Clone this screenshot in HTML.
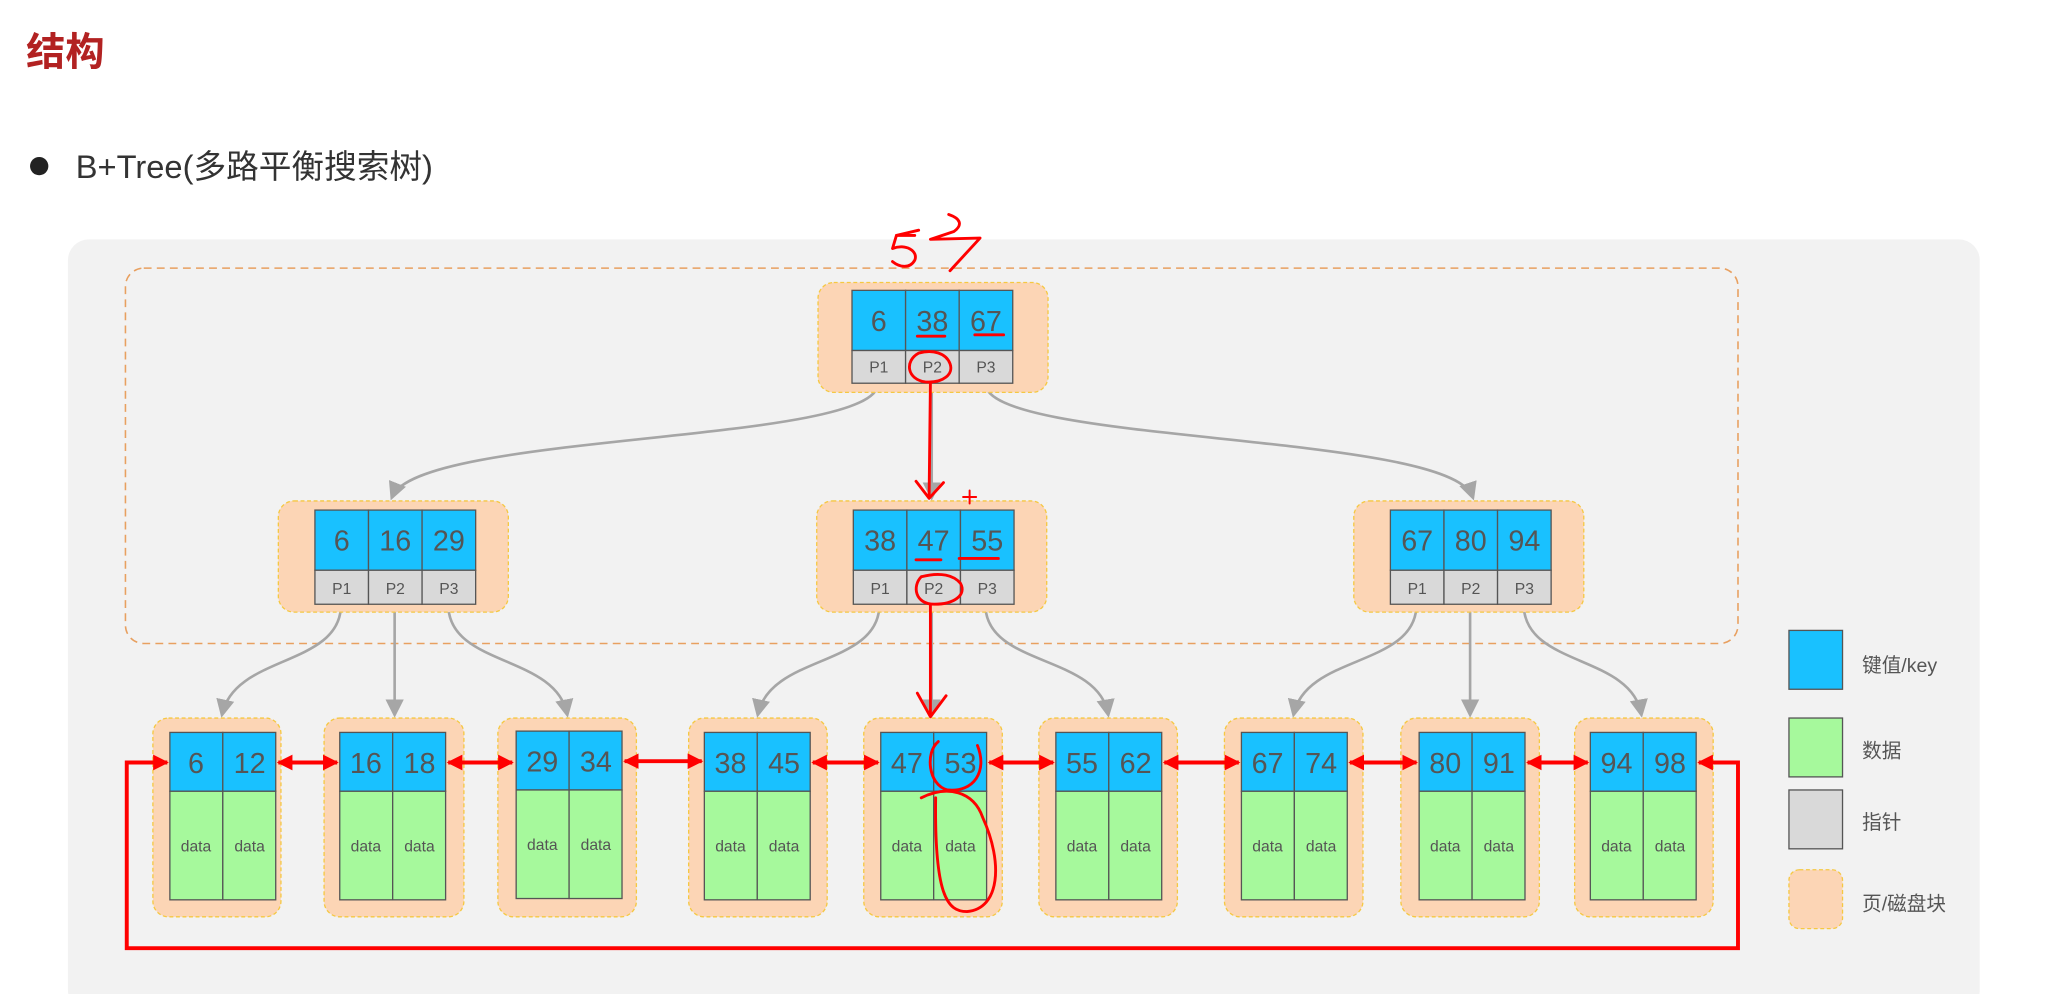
<!DOCTYPE html>
<html><head><meta charset="utf-8"><style>
html,body{margin:0;padding:0;background:#fff;width:2049px;height:994px;overflow:hidden}
svg{display:block}
text{font-family:"Liberation Sans","Noto Sans CJK SC",sans-serif;fill:#555}
</style></head><body>
<svg width="2049" height="994" viewBox="0 0 1568 760" preserveAspectRatio="none" xmlns="http://www.w3.org/2000/svg">
<defs>
<marker id="ga" viewBox="0 0 10 10" refX="8" refY="5" markerWidth="7" markerHeight="7" orient="auto"><path d="M0,0 L10,5 L0,10 z" fill="#a6a6a6"/></marker>
<marker id="ra" viewBox="0 0 10 10" refX="9" refY="5" markerWidth="4" markerHeight="4" orient="auto-start-reverse"><path d="M0,0 L10,5 L0,10 z" fill="#f00"/></marker>
</defs>
<text x="20" y="50" font-size="30" font-weight="bold" style="fill:#b22222">结构</text>
<circle cx="30" cy="127" r="7" fill="#222"/>
<text x="58" y="136" font-size="25" style="fill:#333">B+Tree(多路平衡搜索树)</text>
<rect x="52" y="183" width="1463" height="590" rx="16" fill="#f2f2f2"/>
<rect x="96" y="205" width="1234" height="287" rx="14" fill="none" stroke="#e8a060" stroke-width="1.2" stroke-dasharray="6,4"/>

<g fill="none" stroke="#a6a6a6" stroke-width="2">
<path d="M672,293 C672,340 320,330 300,380" marker-end="url(#ga)"/>
<path d="M713,293 L713,380" marker-end="url(#ga)"/>
<path d="M754,293 C754,340 1110,330 1127,380" marker-end="url(#ga)"/>
<path d="M261,462 C261,510 180,500 170,546" marker-end="url(#ga)"/>
<path d="M302,462 L302,546" marker-end="url(#ga)"/>
<path d="M343,462 C343,510 425,500 434,546" marker-end="url(#ga)"/>
<path d="M673,462 C673,510 590,500 580,546" marker-end="url(#ga)"/>
<path d="M713,462 L713,546" marker-end="url(#ga)"/>
<path d="M754,462 C754,510 840,500 848,546" marker-end="url(#ga)"/>
<path d="M1084,462 C1084,510 1000,500 990,546" marker-end="url(#ga)"/>
<path d="M1125,462 L1125,546" marker-end="url(#ga)"/>
<path d="M1166,462 C1166,510 1248,500 1256,546" marker-end="url(#ga)"/>
</g>

<g id="root">
<rect x="626" y="216" width="176" height="84" rx="12" fill="#fcd5b5" stroke="#f5c842" stroke-dasharray="3,2"/>
<rect x="652" y="222" width="41" height="46" fill="#19c1ff" stroke="#555"/><rect x="693" y="222" width="41" height="46" fill="#19c1ff" stroke="#555"/><rect x="734" y="222" width="41" height="46" fill="#19c1ff" stroke="#555"/>
<rect x="652" y="268" width="41" height="25" fill="#d9d9d9" stroke="#555"/><rect x="693" y="268" width="41" height="25" fill="#d9d9d9" stroke="#555"/><rect x="734" y="268" width="41" height="25" fill="#d9d9d9" stroke="#555"/>
<text x="672.5" y="253" font-size="22" text-anchor="middle">6</text><text x="713.5" y="253" font-size="22" text-anchor="middle">38</text><text x="754.5" y="253" font-size="22" text-anchor="middle">67</text>
<text x="672.5" y="285" font-size="12" text-anchor="middle">P1</text><text x="713.5" y="285" font-size="12" text-anchor="middle">P2</text><text x="754.5" y="285" font-size="12" text-anchor="middle">P3</text>
</g>
<g transform="translate(-412,168)">
<rect x="625" y="215" width="176" height="85" rx="12" fill="#fcd5b5" stroke="#f5c842" stroke-dasharray="3,2"/>
<rect x="653" y="222" width="41" height="46" fill="#19c1ff" stroke="#555"/><rect x="694" y="222" width="41" height="46" fill="#19c1ff" stroke="#555"/><rect x="735" y="222" width="41" height="46" fill="#19c1ff" stroke="#555"/>
<rect x="653" y="268" width="41" height="26" fill="#d9d9d9" stroke="#555"/><rect x="694" y="268" width="41" height="26" fill="#d9d9d9" stroke="#555"/><rect x="735" y="268" width="41" height="26" fill="#d9d9d9" stroke="#555"/>
<text x="673.5" y="253" font-size="22" text-anchor="middle">6</text><text x="714.5" y="253" font-size="22" text-anchor="middle">16</text><text x="755.5" y="253" font-size="22" text-anchor="middle">29</text>
<text x="673.5" y="286" font-size="12" text-anchor="middle">P1</text><text x="714.5" y="286" font-size="12" text-anchor="middle">P2</text><text x="755.5" y="286" font-size="12" text-anchor="middle">P3</text>
</g>
<g transform="translate(0,168)">
<rect x="625" y="215" width="176" height="85" rx="12" fill="#fcd5b5" stroke="#f5c842" stroke-dasharray="3,2"/>
<rect x="653" y="222" width="41" height="46" fill="#19c1ff" stroke="#555"/><rect x="694" y="222" width="41" height="46" fill="#19c1ff" stroke="#555"/><rect x="735" y="222" width="41" height="46" fill="#19c1ff" stroke="#555"/>
<rect x="653" y="268" width="41" height="26" fill="#d9d9d9" stroke="#555"/><rect x="694" y="268" width="41" height="26" fill="#d9d9d9" stroke="#555"/><rect x="735" y="268" width="41" height="26" fill="#d9d9d9" stroke="#555"/>
<text x="673.5" y="253" font-size="22" text-anchor="middle">38</text><text x="714.5" y="253" font-size="22" text-anchor="middle">47</text><text x="755.5" y="253" font-size="22" text-anchor="middle">55</text>
<text x="673.5" y="286" font-size="12" text-anchor="middle">P1</text><text x="714.5" y="286" font-size="12" text-anchor="middle">P2</text><text x="755.5" y="286" font-size="12" text-anchor="middle">P3</text>
</g>
<g transform="translate(411,168)">
<rect x="625" y="215" width="176" height="85" rx="12" fill="#fcd5b5" stroke="#f5c842" stroke-dasharray="3,2"/>
<rect x="653" y="222" width="41" height="46" fill="#19c1ff" stroke="#555"/><rect x="694" y="222" width="41" height="46" fill="#19c1ff" stroke="#555"/><rect x="735" y="222" width="41" height="46" fill="#19c1ff" stroke="#555"/>
<rect x="653" y="268" width="41" height="26" fill="#d9d9d9" stroke="#555"/><rect x="694" y="268" width="41" height="26" fill="#d9d9d9" stroke="#555"/><rect x="735" y="268" width="41" height="26" fill="#d9d9d9" stroke="#555"/>
<text x="673.5" y="253" font-size="22" text-anchor="middle">67</text><text x="714.5" y="253" font-size="22" text-anchor="middle">80</text><text x="755.5" y="253" font-size="22" text-anchor="middle">94</text>
<text x="673.5" y="286" font-size="12" text-anchor="middle">P1</text><text x="714.5" y="286" font-size="12" text-anchor="middle">P2</text><text x="755.5" y="286" font-size="12" text-anchor="middle">P3</text>
</g>

<g id="leaves">
<g transform="translate(117,0)"><rect x="0" y="549" width="98" height="152" rx="12" fill="#fcd5b5" stroke="#f5c842" stroke-dasharray="3,2"/><rect x="13" y="560" width="40.5" height="45" fill="#19c1ff" stroke="#555"/><rect x="53.5" y="560" width="40.5" height="45" fill="#19c1ff" stroke="#555"/><rect x="13" y="605" width="40.5" height="83" fill="#a6f99c" stroke="#555"/><rect x="53.5" y="605" width="40.5" height="83" fill="#a6f99c" stroke="#555"/><text x="33" y="591" font-size="22" text-anchor="middle">6</text><text x="74" y="591" font-size="22" text-anchor="middle">12</text><text x="33" y="651" font-size="12" text-anchor="middle">data</text><text x="74" y="651" font-size="12" text-anchor="middle">data</text></g>
<g transform="translate(248,0)"><rect x="0" y="549" width="107" height="152" rx="12" fill="#fcd5b5" stroke="#f5c842" stroke-dasharray="3,2"/><rect x="12" y="560" width="40.5" height="45" fill="#19c1ff" stroke="#555"/><rect x="52.5" y="560" width="40.5" height="45" fill="#19c1ff" stroke="#555"/><rect x="12" y="605" width="40.5" height="83" fill="#a6f99c" stroke="#555"/><rect x="52.5" y="605" width="40.5" height="83" fill="#a6f99c" stroke="#555"/><text x="32" y="591" font-size="22" text-anchor="middle">16</text><text x="73" y="591" font-size="22" text-anchor="middle">18</text><text x="32" y="651" font-size="12" text-anchor="middle">data</text><text x="73" y="651" font-size="12" text-anchor="middle">data</text></g>
<g transform="translate(381,0)"><rect x="0" y="549" width="106" height="152" rx="12" fill="#fcd5b5" stroke="#f5c842" stroke-dasharray="3,2"/><rect x="14" y="559" width="40.5" height="45" fill="#19c1ff" stroke="#555"/><rect x="54.5" y="559" width="40.5" height="45" fill="#19c1ff" stroke="#555"/><rect x="14" y="604" width="40.5" height="83" fill="#a6f99c" stroke="#555"/><rect x="54.5" y="604" width="40.5" height="83" fill="#a6f99c" stroke="#555"/><text x="34" y="590" font-size="22" text-anchor="middle">29</text><text x="75" y="590" font-size="22" text-anchor="middle">34</text><text x="34" y="650" font-size="12" text-anchor="middle">data</text><text x="75" y="650" font-size="12" text-anchor="middle">data</text></g>
<g transform="translate(527,0)"><rect x="0" y="549" width="106" height="152" rx="12" fill="#fcd5b5" stroke="#f5c842" stroke-dasharray="3,2"/><rect x="12" y="560" width="40.5" height="45" fill="#19c1ff" stroke="#555"/><rect x="52.5" y="560" width="40.5" height="45" fill="#19c1ff" stroke="#555"/><rect x="12" y="605" width="40.5" height="83" fill="#a6f99c" stroke="#555"/><rect x="52.5" y="605" width="40.5" height="83" fill="#a6f99c" stroke="#555"/><text x="32" y="591" font-size="22" text-anchor="middle">38</text><text x="73" y="591" font-size="22" text-anchor="middle">45</text><text x="32" y="651" font-size="12" text-anchor="middle">data</text><text x="73" y="651" font-size="12" text-anchor="middle">data</text></g>
<g transform="translate(661,0)"><rect x="0" y="549" width="106" height="152" rx="12" fill="#fcd5b5" stroke="#f5c842" stroke-dasharray="3,2"/><rect x="13" y="560" width="40.5" height="45" fill="#19c1ff" stroke="#555"/><rect x="53.5" y="560" width="40.5" height="45" fill="#19c1ff" stroke="#555"/><rect x="13" y="605" width="40.5" height="83" fill="#a6f99c" stroke="#555"/><rect x="53.5" y="605" width="40.5" height="83" fill="#a6f99c" stroke="#555"/><text x="33" y="591" font-size="22" text-anchor="middle">47</text><text x="74" y="591" font-size="22" text-anchor="middle">53</text><text x="33" y="651" font-size="12" text-anchor="middle">data</text><text x="74" y="651" font-size="12" text-anchor="middle">data</text></g>
<g transform="translate(795,0)"><rect x="0" y="549" width="106" height="152" rx="12" fill="#fcd5b5" stroke="#f5c842" stroke-dasharray="3,2"/><rect x="13" y="560" width="40.5" height="45" fill="#19c1ff" stroke="#555"/><rect x="53.5" y="560" width="40.5" height="45" fill="#19c1ff" stroke="#555"/><rect x="13" y="605" width="40.5" height="83" fill="#a6f99c" stroke="#555"/><rect x="53.5" y="605" width="40.5" height="83" fill="#a6f99c" stroke="#555"/><text x="33" y="591" font-size="22" text-anchor="middle">55</text><text x="74" y="591" font-size="22" text-anchor="middle">62</text><text x="33" y="651" font-size="12" text-anchor="middle">data</text><text x="74" y="651" font-size="12" text-anchor="middle">data</text></g>
<g transform="translate(937,0)"><rect x="0" y="549" width="106" height="152" rx="12" fill="#fcd5b5" stroke="#f5c842" stroke-dasharray="3,2"/><rect x="13" y="560" width="40.5" height="45" fill="#19c1ff" stroke="#555"/><rect x="53.5" y="560" width="40.5" height="45" fill="#19c1ff" stroke="#555"/><rect x="13" y="605" width="40.5" height="83" fill="#a6f99c" stroke="#555"/><rect x="53.5" y="605" width="40.5" height="83" fill="#a6f99c" stroke="#555"/><text x="33" y="591" font-size="22" text-anchor="middle">67</text><text x="74" y="591" font-size="22" text-anchor="middle">74</text><text x="33" y="651" font-size="12" text-anchor="middle">data</text><text x="74" y="651" font-size="12" text-anchor="middle">data</text></g>
<g transform="translate(1072,0)"><rect x="0" y="549" width="106" height="152" rx="12" fill="#fcd5b5" stroke="#f5c842" stroke-dasharray="3,2"/><rect x="14" y="560" width="40.5" height="45" fill="#19c1ff" stroke="#555"/><rect x="54.5" y="560" width="40.5" height="45" fill="#19c1ff" stroke="#555"/><rect x="14" y="605" width="40.5" height="83" fill="#a6f99c" stroke="#555"/><rect x="54.5" y="605" width="40.5" height="83" fill="#a6f99c" stroke="#555"/><text x="34" y="591" font-size="22" text-anchor="middle">80</text><text x="75" y="591" font-size="22" text-anchor="middle">91</text><text x="34" y="651" font-size="12" text-anchor="middle">data</text><text x="75" y="651" font-size="12" text-anchor="middle">data</text></g>
<g transform="translate(1205,0)"><rect x="0" y="549" width="106" height="152" rx="12" fill="#fcd5b5" stroke="#f5c842" stroke-dasharray="3,2"/><rect x="12" y="560" width="40.5" height="45" fill="#19c1ff" stroke="#555"/><rect x="52.5" y="560" width="40.5" height="45" fill="#19c1ff" stroke="#555"/><rect x="12" y="605" width="40.5" height="83" fill="#a6f99c" stroke="#555"/><rect x="52.5" y="605" width="40.5" height="83" fill="#a6f99c" stroke="#555"/><text x="32" y="591" font-size="22" text-anchor="middle">94</text><text x="73" y="591" font-size="22" text-anchor="middle">98</text><text x="32" y="651" font-size="12" text-anchor="middle">data</text><text x="73" y="651" font-size="12" text-anchor="middle">data</text></g>
</g>

<g stroke="#f00" stroke-width="3" fill="none">
<path d="M213,583 L258,583" marker-start="url(#ra)" marker-end="url(#ra)"/>
<path d="M343,583 L392,583" marker-start="url(#ra)" marker-end="url(#ra)"/>
<path d="M478,582 L537,582" marker-start="url(#ra)" marker-end="url(#ra)"/>
<path d="M622,583 L672,583" marker-start="url(#ra)" marker-end="url(#ra)"/>
<path d="M757,583 L806,583" marker-start="url(#ra)" marker-end="url(#ra)"/>
<path d="M891,583 L948,583" marker-start="url(#ra)" marker-end="url(#ra)"/>
<path d="M1033,583 L1084,583" marker-start="url(#ra)" marker-end="url(#ra)"/>
<path d="M1169,583 L1215,583" marker-start="url(#ra)" marker-end="url(#ra)"/>
<path d="M1300,583 L1330,583 L1330,725 L97,725 L97,583 L128,583" marker-start="url(#ra)" marker-end="url(#ra)"/>
</g>

<g stroke="#f00" stroke-width="2.2" fill="none" stroke-linecap="round" stroke-linejoin="round">
<path d="M700,180 L686,180 L683,190 C693,186 703,192 700,199 C696,206 688,204 683,200"/>
<path d="M686,180 L703,176"/>
<path d="M726,164 C735,167 737,172 730,177 L712,183 L750,182 L727,207"/>
<path d="M702,257 L723,257"/><path d="M746,256 L768,256"/>
<path d="M703,270 C692,276 694,290 708,292 C722,293 730,286 727,278 C724,270 714,267 703,270"/>
<path d="M712,293 L711,380"/><path d="M701,368 L711,381 L722,369"/>
<path d="M701,428 L720,428"/><path d="M734,427 L764,427"/>
<path d="M742,375 L742,385 M737,380 L747,380" stroke-width="1.5"/>
<path d="M705,441 C698,448 700,462 715,462 C730,462 740,455 735,446 C730,440 720,437 705,441"/>
<path d="M712,463 L712,547"/><path d="M702,530 L712,548 L724,532"/>
<path d="M718,567 C708,575 710,600 725,604 C745,606 756,590 748,570"/>
<path d="M705,610 C725,600 745,605 752,625 C768,660 765,695 740,697 C725,697 715,685 716,610"/>
</g>

<rect x="1369" y="482" width="41" height="45" fill="#19c1ff" stroke="#555"/>
<text x="1425" y="514" font-size="15">键值/key</text>
<rect x="1369" y="549" width="41" height="45" fill="#a6f99c" stroke="#555"/>
<text x="1425" y="579" font-size="15">数据</text>
<rect x="1369" y="604" width="41" height="45" fill="#d9d9d9" stroke="#555"/>
<text x="1425" y="634" font-size="15">指针</text>
<rect x="1369" y="665" width="41" height="45" rx="8" fill="#fcd5b5" stroke="#f5c842" stroke-dasharray="3,2"/>
<text x="1425" y="696" font-size="15">页/磁盘块</text>
</svg>
</body></html>
